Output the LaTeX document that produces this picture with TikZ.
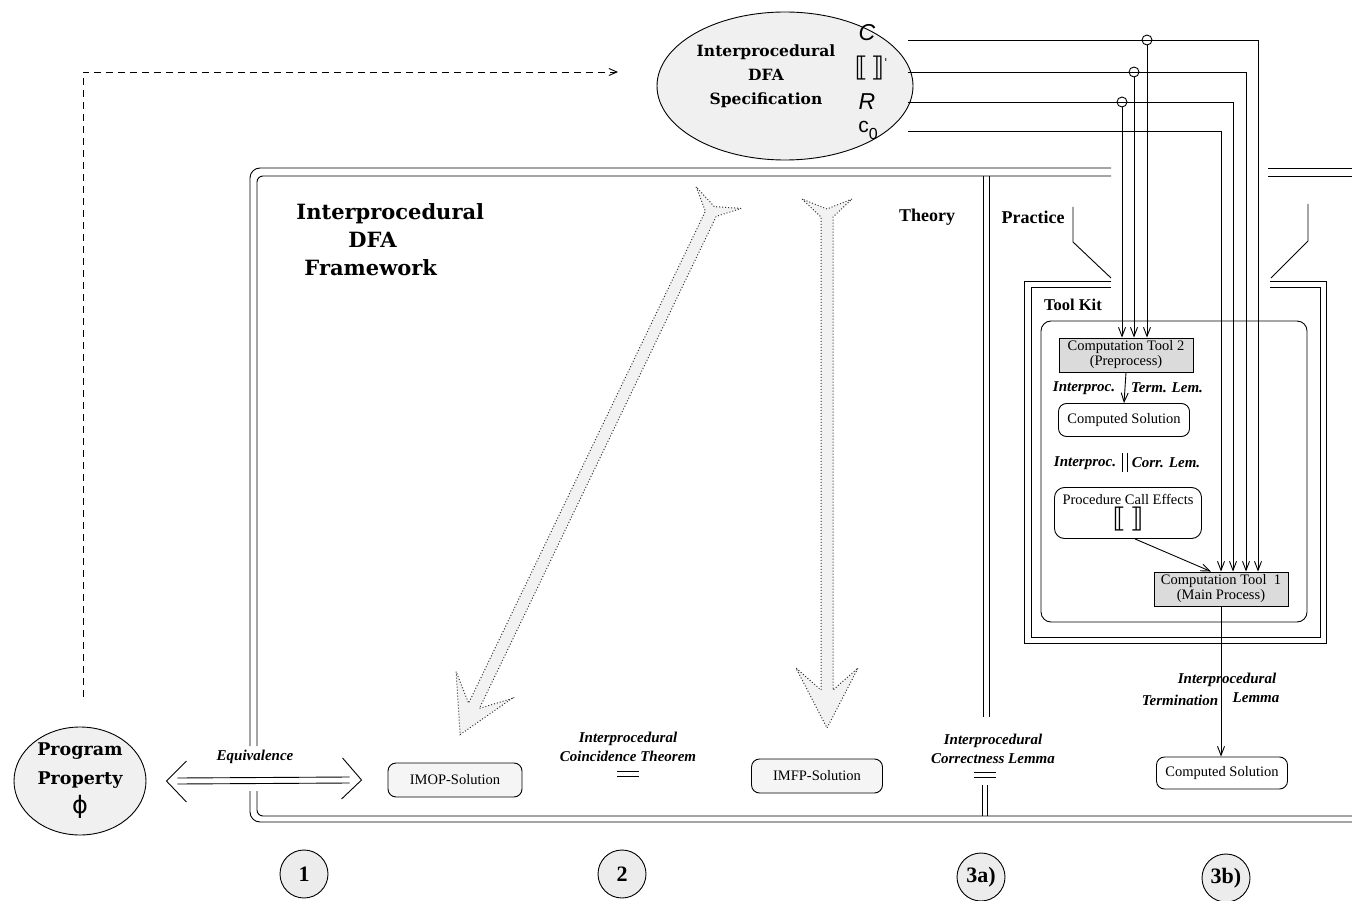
\documentclass[tikz,border=0pt]{standalone}
\usepackage{fontspec}
\usepackage{tikz}
\usetikzlibrary{arrows.meta,shapes.geometric}

\setmainfont{Liberation Serif}
\newfontfamily\schfont{DejaVu Serif}
\newfontfamily\symfont{Liberation Sans}
\newfontfamily\brkfont{DejaVu Sans}

\newcommand\boxtext{\fontsize{14.5}{15}\selectfont}
\newcommand\lemmatext{\fontsize{15}{19}\selectfont\bfseries\itshape}
\newcommand\headtext{\fontsize{18}{20}\selectfont\bfseries}
\newcommand\stagetext{\fontsize{22}{22}\selectfont\bfseries}

\tikzset{
  solution/.style={draw, rounded corners=8pt, fill=gray!8, minimum height=34pt, font=\boxtext},
  tool/.style={draw, fill=gray!28, align=center, minimum width=134pt, minimum height=34pt, inner sep=1pt, font=\boxtext},
  lemma/.style={align=center, inner sep=0pt, font=\lemmatext},
  heading/.style={inner sep=0pt, font=\headtext},
  stage/.style={circle, draw, fill=gray!15, minimum size=48pt, inner sep=0pt, font=\stagetext},
  hop/.style={circle, draw, minimum size=10pt, inner sep=0pt},
  barb/.style={-{Straight Barb[length=9pt,width=7pt]}},
  bigarrow/.style={draw=black!80, dotted, line width=1pt, fill=gray!10},
}

\begin{document}
\begin{tikzpicture}[x=1pt,y=-1pt,line width=0.9pt]
  \useasboundingbox (0,0) rectangle (1352,901);

  % framework border (double line, open on the right)
  \draw[rounded corners=10pt] (1111,168) -- (250,168) -- (250,746);
  \draw[rounded corners=6pt] (1111,176) -- (257,176) -- (257,746);
  \draw[rounded corners=10pt] (250,791) -- (250,822) -- (1352,822);
  \draw[rounded corners=6pt] (257,791) -- (257,816) -- (1352,816);
  \draw (1268,168) -- (1352,168);
  \draw (1268,176) -- (1352,176);

  % theory / practice divider
  \draw (983,176) -- (983,717);
  \draw (989,176) -- (989,717);
  \draw (982,785) -- (982,816);
  \draw (987,785) -- (987,816);

  % big dotted arrows
  \begin{scope}[shift={(716,203)}, rotate=-115.7]
    \path[bigarrow] (-6,-25) -- (4,0) -- (-6,25) -- (12,6) -- (558,6) -- (535,31) -- (590,0)
      -- (535,-31) -- (558,-6) -- (12,-6) -- cycle;
  \end{scope}
  \begin{scope}[shift={(827,205)}, rotate=-90]
    \path[bigarrow] (-6,-25) -- (4,0) -- (-6,25) -- (12,6) -- (485,6) -- (463,31) -- (523,0)
      -- (463,-31) -- (485,-6) -- (12,-6) -- cycle;
  \end{scope}

  \node[font={\fontsize{21}{28}\selectfont\schfont\bfseries}, align=left, inner sep=0pt, anchor=north west]
    (fwtitle) at (296,203) {Interprocedural\\\hspace*{52pt}DFA\\\hspace*{8pt}Framework};
  \node[heading] (theory) at (927,217) {Theory};
  \node[heading] (practice) at (1033,217) {Practice};

  % specification
  \node[ellipse, draw, fill=gray!12, minimum width=256pt, minimum height=148pt] (spec) at (785,86) {};
  \node[font={\fontsize{15.5}{24}\selectfont\schfont\bfseries}, align=center, inner sep=0pt]
    (speclabel) at (766,76) {Interprocedural\\DFA\\Specification};
  \node[inner sep=0pt, font={\fontsize{23}{23}\selectfont\symfont\itshape}] (symC) at (867,33) {C};
  \node[inner sep=0pt, font={\fontsize{27}{27}\selectfont\brkfont}] (symS) at (871,68)
    {⟦\hspace{3pt}⟧\raisebox{10pt}{\fontsize{11}{11}\selectfont\textquotesingle}};
  \node[inner sep=0pt, font={\fontsize{23}{23}\selectfont\symfont\itshape}] (symR) at (867,102) {R};
  \node[inner sep=0pt, font={\fontsize{21}{21}\selectfont\symfont}] (symc) at (868,130)
    {c\raisebox{-7pt}{\fontsize{16}{16}\selectfont 0}};

  % program property
  \node[ellipse, draw, fill=gray!12, minimum width=132pt, minimum height=108pt, inner sep=0pt,
    align=center, font={\fontsize{17.5}{29}\selectfont\schfont\bfseries}] (prop) at (80,781)
    {Program\\Property\\{\fontsize{24}{24}\selectfont\brkfont\mdseries ϕ}};
  \coordinate (dashstart) at (83,697);
  \coordinate (dashend) at (618,72);
  \draw[dash pattern=on 7pt off 5pt, -{Straight Barb[length=8pt,width=7pt]}] (dashstart) |- (dashend);

  % theory side
  \node[solution, minimum width=134pt] (imop) at (455,780) {IMOP-Solution};
  \node[solution, minimum width=131pt] (imfp) at (817,776) {IMFP-Solution};
  \node[lemma] (equiv) at (255,757) {Equivalence};
  \node[lemma] (coinc) at (628,747) {Interprocedural\\Coincidence Theorem};
  \node[lemma] (correct) at (993,749) {Interprocedural\\Correctness Lemma};
  \draw ([xshift=-11pt]coinc.south |- 0,771) -- ([xshift=11pt]coinc.south |- 0,771);
  \draw ([xshift=-11pt]coinc.south |- 0,776) -- ([xshift=11pt]coinc.south |- 0,776);
  \draw (974,772) -- (996,772);
  \draw (974,777) -- (996,777);

  % equivalence double arrow
  \draw ([xshift=31pt,yshift=3pt]prop.east) -- ([xshift=-38pt,yshift=3pt]imop.west);
  \draw ([xshift=31pt,yshift=-3pt]prop.east) -- ([xshift=-38pt,yshift=-3pt]imop.west);
  \draw ([xshift=40pt,yshift=20pt]prop.east) -- ([xshift=20pt]prop.east) -- ([xshift=40pt,yshift=-21pt]prop.east);
  \draw ([xshift=-45pt,yshift=22pt]imop.west) -- ([xshift=-26pt]imop.west) -- ([xshift=-46pt,yshift=-19pt]imop.west);

  % tool kit
  \draw (1111,281) -- (1024,281) -- (1024,643) -- (1326,643) -- (1326,281) -- (1270,281);
  \draw (1111,287) -- (1031,287) -- (1031,637) -- (1320,637) -- (1320,287) -- (1270,287);
  \draw (1073,207) -- (1073,242) -- (1111,278);
  \draw (1308,204) -- (1308,241) -- (1271,278);
  \draw[rounded corners=10pt] (1041,321) rectangle (1307,622);
  \node[inner sep=0pt, font={\fontsize{16.5}{18}\selectfont\bfseries}] (toolkit) at (1073,305) {Tool Kit};

  \node[tool] (ct2) at (1126,355) {Computation Tool 2\\(Preprocess)};
  \node[solution, draw, fill=white, minimum width=131pt, minimum height=33pt] (cs1) at (1124,420) {Computed Solution};
  \node[solution, draw, fill=white, minimum width=147pt, minimum height=51pt, align=center,
    rounded corners=10pt] (pce) at (1128,513)
    {Procedure Call Effects\\[1pt]{\fontsize{27}{24}\selectfont\brkfont ⟦\hspace{4pt}⟧}};
  \node[tool] (ct1) at (1221,589) {Computation Tool~~1\\(Main Process)};
  \node[solution, fill=white, minimum width=131pt, minimum height=32pt] (cs2) at (1222,773) {Computed Solution};

  \draw[barb] (ct2.south) -- (cs1.north);
  \node[lemma] (termL) at (1084,388) {Interproc.};
  \node[lemma] (termR) at (1167,388) {Term. Lem.};
  \node[lemma] (corrL) at (1085,463) {Interproc.};
  \node[lemma] (corrR) at (1166,463) {Corr. Lem.};
  \draw (1122,453) -- (1122,472);
  \draw (1127,453) -- (1127,472);
  \draw[barb] ([xshift=7pt]pce.south) -- ([xshift=-10pt]ct1.north);

  \draw[barb] (ct1.south) -- (ct1.south |- cs2.north);
  \node[lemma] (termA) at (1227,680) {Interprocedural};
  \node[lemma] (termB) at (1180,700) {Termination};
  \node[lemma] (termC) at (1256,698) {Lemma};

  % specification wires
  \coordinate (wC) at (908,40);
  \coordinate (wS) at (908,72);
  \coordinate (wR) at (908,102);
  \coordinate (wc) at (908,131);
  \draw[barb] (wC) -| ([xshift=37pt]ct1.north);
  \draw[barb] (wS) -| ([xshift=25pt]ct1.north);
  \draw[barb] (wR) -| ([xshift=12pt]ct1.north);
  \draw[barb] (wc) -| (ct1.north);
  \node[hop] (hC) at (1147,40) {};
  \node[hop] (hS) at (1134,72) {};
  \node[hop] (hR) at (1122,102) {};
  \draw[barb] (hC.south) -- (hC.south |- ct2.north);
  \draw[barb] (hS.south) -- (hS.south |- ct2.north);
  \draw[barb] (hR.south) -- (hR.south |- ct2.north);

  % stages
  \node[stage] (st1) at (304,874) {1};
  \node[stage] (st2) at (622,874) {2};
  \node[stage] (st3a) at (981,877) {3a)};
  \node[stage] (st3b) at (1226,878) {3b)};
\end{tikzpicture}
\end{document}
